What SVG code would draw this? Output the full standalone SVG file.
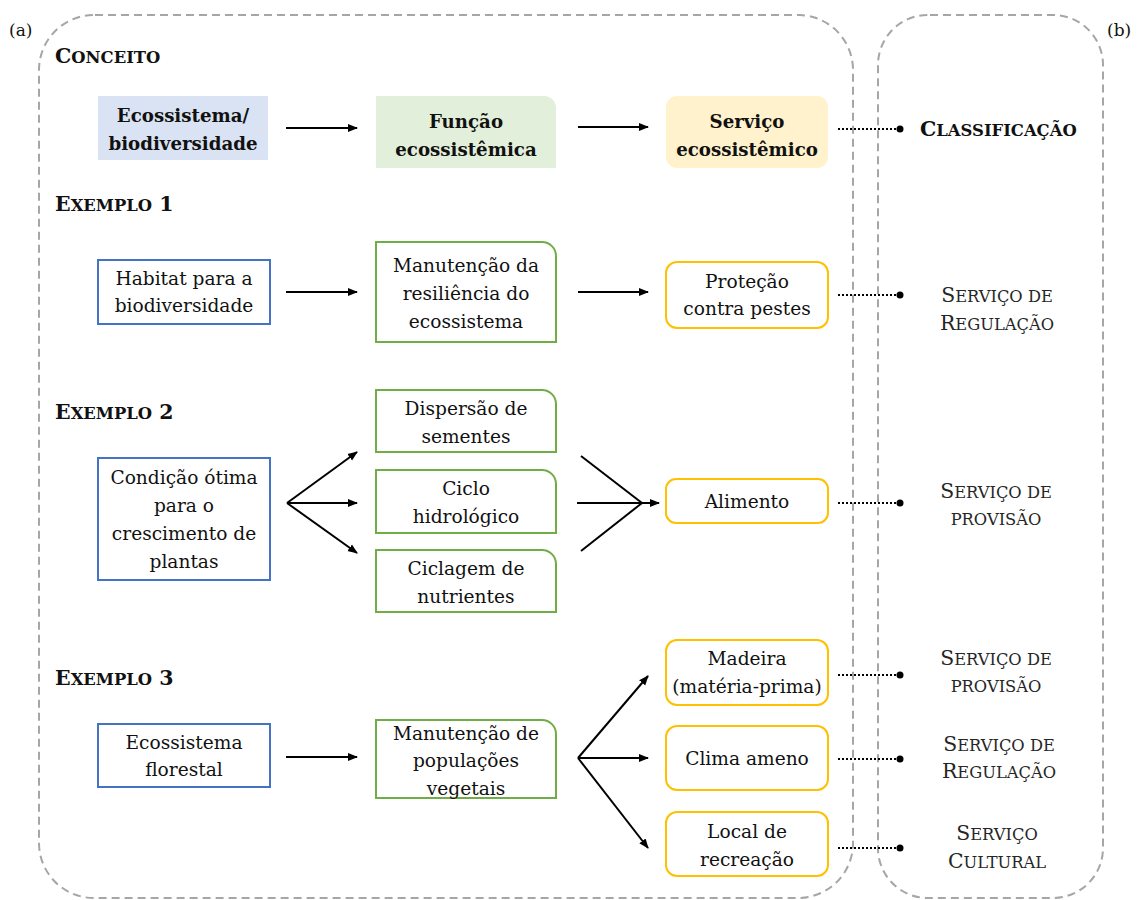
<svg xmlns="http://www.w3.org/2000/svg" width="1137" height="900" viewBox="0 0 1137 900" font-family="'DejaVu Serif', serif">
  <style>
    .panel { fill: none; stroke: #a6a6a6; stroke-width: 2; stroke-dasharray: 8 5; }
    .t { font-size: 18.6px; fill: #111; text-anchor: middle; }
    .b { font-weight: bold; font-size: 18.2px; }
    .h { font-weight: bold; fill: #111; font-size: 20.5px; }
    .sc { font-size: 16.4px; }
    .cls { font-size: 20.4px; fill: #262626; text-anchor: middle; }
    .cls .sc { font-size: 16.3px; }
    .lbl { font-size: 17px; fill: #111; }
    .eco { fill: #ffffff; stroke: #4472c4; stroke-width: 2; }
    .fun { fill: #ffffff; stroke: #70ad47; stroke-width: 2; }
    .srv { fill: #ffffff; stroke: #ffc000; stroke-width: 2; }
    .arrow { fill: none; stroke: #000; stroke-width: 2; marker-end: url(#ah); }
    .line { fill: none; stroke: #000; stroke-width: 2; }
    .dot { fill: none; stroke: #000; stroke-width: 2; stroke-dasharray: 2 2; }
  </style>
  <defs>
    <marker id="ah" viewBox="0 0 10 10" refX="9" refY="5" markerWidth="5" markerHeight="5" orient="auto" markerUnits="strokeWidth">
      <path d="M0,1 L10,5 L0,9 z" fill="#000"/>
    </marker>
  </defs>

  <!-- panels -->
  <path class="panel" d="M95,15 H800 A55,55 0 0 1 853,70 V845 A55,55 0 0 1 798,898 H94 A55,55 0 0 1 39,843 V70 A55,55 0 0 1 95,15 Z"/>
  <path class="panel" d="M930,15 H1053 A50,50 0 0 1 1103,65 V848 A50,50 0 0 1 1053,898 H930 A50,50 0 0 1 878,846 V65 A50,50 0 0 1 930,15 Z"/>
  <text class="lbl" x="9" y="36">(a)</text>
  <text class="lbl" x="1107" y="36">(b)</text>

  <!-- section headings -->
  <text class="h" x="55" y="63">C<tspan class="sc">ONCEITO</tspan></text>
  <text class="h" x="55" y="211">E<tspan class="sc">XEMPLO</tspan> 1</text>
  <text class="h" x="55" y="419">E<tspan class="sc">XEMPLO</tspan> 2</text>
  <text class="h" x="55" y="685">E<tspan class="sc">XEMPLO</tspan> 3</text>

  <!-- concept row -->
  <g id="c-eco">
    <rect x="98" y="96" width="170" height="64" fill="#dae3f3"/>
    <text class="t b" x="183" y="122">Ecossistema/</text>
    <text class="t b" x="183" y="150">biodiversidade</text>
  </g>
  <g id="c-fun">
    <path d="M376,96 H544 A12,12 0 0 1 556,108 V168 H376 Z" fill="#e2efda"/>
    <text class="t b" x="466" y="128">Função</text>
    <text class="t b" x="466" y="156">ecossistêmica</text>
  </g>
  <g id="c-srv">
    <rect x="666" y="96" width="162" height="72" rx="11" fill="#fff2cc"/>
    <text class="t b" x="747" y="128">Serviço</text>
    <text class="t b" x="747" y="156">ecossistêmico</text>
  </g>
  <g id="c-cls">
    <text class="h" x="920" y="136">C<tspan class="sc">LASSIFICAÇÃO</tspan></text>
  </g>

  <!-- example 1 -->
  <g id="e1-eco">
    <rect class="eco" x="98" y="260" width="172" height="64"/>
    <text class="t" x="184" y="285">Habitat para a</text>
    <text class="t" x="184" y="312">biodiversidade</text>
  </g>
  <g id="e1-fun">
    <path class="fun" d="M376,242 H542 A14,14 0 0 1 556,256 V342 H376 Z"/>
    <text class="t" x="466" y="272">Manutenção da</text>
    <text class="t" x="466" y="300">resiliência do</text>
    <text class="t" x="466" y="328">ecossistema</text>
  </g>
  <g id="e1-srv">
    <rect class="srv" x="666" y="262" width="162" height="66" rx="11"/>
    <text class="t" x="747" y="288">Proteção</text>
    <text class="t" x="747" y="315">contra pestes</text>
  </g>
  <g id="e1-cls">
    <text class="cls" x="997" y="302">S<tspan class="sc">ERVIÇO DE</tspan></text>
    <text class="cls" x="997" y="330">R<tspan class="sc">EGULAÇÃO</tspan></text>
  </g>

  <!-- example 2 -->
  <g id="e2-eco">
    <rect class="eco" x="98" y="458" width="172" height="122"/>
    <text class="t" x="184" y="484">Condição ótima</text>
    <text class="t" x="184" y="512">para o</text>
    <text class="t" x="184" y="540">crescimento de</text>
    <text class="t" x="184" y="568">plantas</text>
  </g>
  <g id="e2-fun1">
    <path class="fun" d="M376,390 H542 A14,14 0 0 1 556,404 V452 H376 Z"/>
    <text class="t" x="466" y="415">Dispersão de</text>
    <text class="t" x="466" y="443">sementes</text>
  </g>
  <g id="e2-fun2">
    <path class="fun" d="M376,470 H542 A14,14 0 0 1 556,484 V533 H376 Z"/>
    <text class="t" x="466" y="495">Ciclo</text>
    <text class="t" x="466" y="523">hidrológico</text>
  </g>
  <g id="e2-fun3">
    <path class="fun" d="M376,550 H542 A14,14 0 0 1 556,564 V612 H376 Z"/>
    <text class="t" x="466" y="575">Ciclagem de</text>
    <text class="t" x="466" y="603">nutrientes</text>
  </g>
  <g id="e2-srv">
    <rect class="srv" x="666" y="479" width="162" height="44" rx="10"/>
    <text class="t" x="747" y="508">Alimento</text>
  </g>
  <g id="e2-cls">
    <text class="cls" x="996" y="498">S<tspan class="sc">ERVIÇO DE</tspan></text>
    <text class="cls" x="996" y="525"><tspan class="sc">PROVISÃO</tspan></text>
  </g>

  <!-- example 3 -->
  <g id="e3-eco">
    <rect class="eco" x="98" y="724" width="172" height="63"/>
    <text class="t" x="184" y="749">Ecossistema</text>
    <text class="t" x="184" y="776">florestal</text>
  </g>
  <g id="e3-fun">
    <path class="fun" d="M376,720 H542 A14,14 0 0 1 556,734 V798 H376 Z"/>
    <text class="t" x="466" y="740">Manutenção de</text>
    <text class="t" x="466" y="767">populações</text>
    <text class="t" x="466" y="795">vegetais</text>
  </g>
  <g id="e3-srv1">
    <rect class="srv" x="666" y="640" width="162" height="65" rx="11"/>
    <text class="t" x="747" y="665">Madeira</text>
    <text class="t" x="747" y="693">(matéria-prima)</text>
  </g>
  <g id="e3-srv2">
    <rect class="srv" x="666" y="726" width="162" height="64" rx="11"/>
    <text class="t" x="747" y="765">Clima ameno</text>
  </g>
  <g id="e3-srv3">
    <rect class="srv" x="666" y="812" width="162" height="64" rx="11"/>
    <text class="t" x="747" y="838">Local de</text>
    <text class="t" x="747" y="866">recreação</text>
  </g>
  <g id="e3-cls1">
    <text class="cls" x="996" y="665">S<tspan class="sc">ERVIÇO DE</tspan></text>
    <text class="cls" x="996" y="692"><tspan class="sc">PROVISÃO</tspan></text>
  </g>
  <g id="e3-cls2">
    <text class="cls" x="999" y="751">S<tspan class="sc">ERVIÇO DE</tspan></text>
    <text class="cls" x="999" y="778">R<tspan class="sc">EGULAÇÃO</tspan></text>
  </g>
  <g id="e3-cls3">
    <text class="cls" x="997" y="840">S<tspan class="sc">ERVIÇO</tspan></text>
    <text class="cls" x="997" y="868">C<tspan class="sc">ULTURAL</tspan></text>
  </g>

  <!-- connectors -->
  <g id="connectors">
    <line class="arrow" x1="286" y1="128" x2="357" y2="128"/>
    <line class="arrow" x1="578" y1="127" x2="648" y2="127"/>
    <line class="arrow" x1="286" y1="292" x2="357" y2="292"/>
    <line class="arrow" x1="578" y1="292" x2="648" y2="292"/>

    <line class="arrow" x1="287" y1="503" x2="357" y2="452"/>
    <line class="arrow" x1="287" y1="503" x2="357" y2="503"/>
    <line class="arrow" x1="287" y1="503" x2="357" y2="553"/>

    <line class="line" x1="581" y1="456" x2="642" y2="503"/>
    <line class="line" x1="581" y1="551" x2="642" y2="503"/>
    <line class="arrow" x1="577" y1="503" x2="659" y2="503"/>

    <line class="arrow" x1="286" y1="757" x2="357" y2="757"/>
    <line class="arrow" x1="578" y1="758" x2="648" y2="676"/>
    <line class="arrow" x1="578" y1="758" x2="648" y2="758"/>
    <line class="arrow" x1="578" y1="758" x2="648" y2="848"/>

    <!-- dotted links to the classification -->
    <g>
      <line class="dot" x1="838" y1="129" x2="898" y2="129"/>
      <circle cx="900" cy="129" r="3.5"/>
      <line class="dot" x1="838" y1="295" x2="898" y2="295"/>
      <circle cx="900" cy="295" r="3.5"/>
      <line class="dot" x1="838" y1="503" x2="898" y2="503"/>
      <circle cx="900" cy="503" r="3.5"/>
      <line class="dot" x1="838" y1="675" x2="898" y2="675"/>
      <circle cx="900" cy="675" r="3.5"/>
      <line class="dot" x1="838" y1="759" x2="898" y2="759"/>
      <circle cx="900" cy="759" r="3.5"/>
      <line class="dot" x1="838" y1="848" x2="898" y2="848"/>
      <circle cx="900" cy="848" r="3.5"/>
    </g>
  </g>
</svg>
